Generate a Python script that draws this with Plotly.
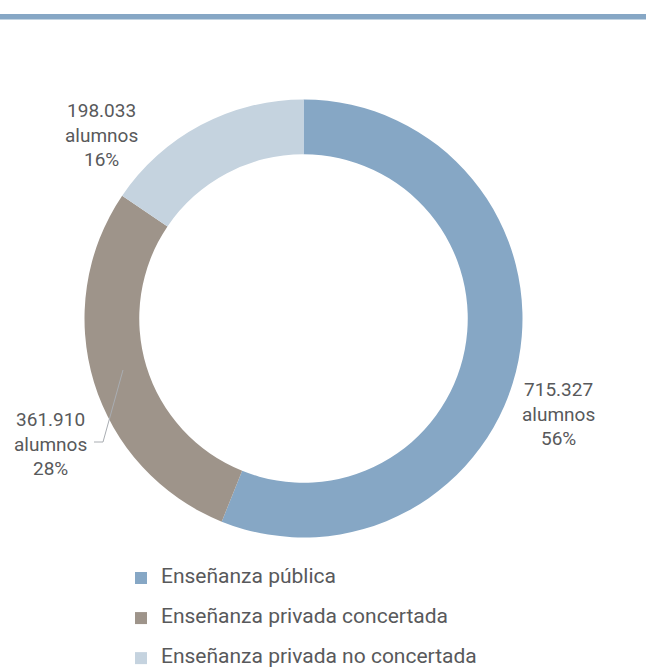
import plotly.graph_objects as go

# Alumnado por titularidad del centro
categories = ["Enseñanza pública", "Enseñanza privada concertada", "Enseñanza privada no concertada"]
students = [715327, 361910, 198033]
colors = ["#86a7c5", "#9e948a", "#c5d3df"]

W, H = 646, 670
FONT = "Roboto, Liberation Sans, sans-serif"
TEXT_COLOR = "#58595b"


def px_x(x):
    return x / W


def px_y(y):
    return 1 - y / H


total = sum(students)
label_texts = []
for v in students:
    label_texts.append("{}<br>alumnos<br>{}%".format(f"{v:,}".replace(",", "."), round(v / total * 100)))

# legend entries: big legend font gives the row spacing, span keeps text size
legend_labels = ['<span style="font-size:21px;baseline-shift:6px">{}</span>'.format(c) for c in categories]

fig = go.Figure()
fig.add_trace(go.Pie(labels=legend_labels,
                     values=students,
                     marker=dict(colors=colors, line=dict(width=0)),
                     hole=0.75,
                     sort=False,
                     direction="clockwise",
                     rotation=0,
                     textinfo="none",
                     hovertext=categories,
                     hoverinfo="text+value+percent",
                     domain=dict(x=[px_x(84.5), px_x(522.5)],
                                 y=[px_y(537.5), px_y(99.5)])))

# label positions (pixel centres) for each slice
label_pos = [(558, 414), (50, 444), (101, 135)]
for txt, (lx, ly) in zip(label_texts, label_pos):
    fig.add_annotation(x=px_x(lx), y=px_y(ly), xref="paper", yref="paper",
                       text=txt, showarrow=False, xanchor="center", yanchor="middle",
                       align="center", font=dict(family=FONT, size=19, color=TEXT_COLOR))

# leader line for the concertada label
fig.add_shape(type="path", xref="paper", yref="paper",
              path="M {} {} L {} {} L {} {}".format(px_x(94), px_y(442), px_x(103), px_y(442),
                                                   px_x(123), px_y(370)),
              line=dict(color="#a9adb2", width=1))

# top rule
fig.add_shape(type="rect", xref="paper", yref="paper", x0=0, x1=1,
              y0=px_y(19), y1=px_y(14), fillcolor="#86a7c5", line=dict(width=0))
fig.add_shape(type="rect", xref="paper", yref="paper", x0=0, x1=1,
              y0=px_y(20), y1=px_y(19), fillcolor="#c3d4e2", line=dict(width=0))

fig.update_layout(width=W, height=H,
                  margin=dict(l=0, r=0, t=0, b=0, autoexpand=False),
                  paper_bgcolor="white",
                  plot_bgcolor="white",
                  font=dict(family=FONT, color=TEXT_COLOR),
                  legend=dict(x=px_x(121), y=px_y(553), xanchor="left", yanchor="top",
                              font=dict(family=FONT, size=28.5, color=TEXT_COLOR),
                              bgcolor="rgba(0,0,0,0)"))

# page body margin off so the 646x670 figure fills the window
fig.write_html("out.html",
               config={"displayModeBar": False},
               post_script="document.body.style.margin = '0';")
